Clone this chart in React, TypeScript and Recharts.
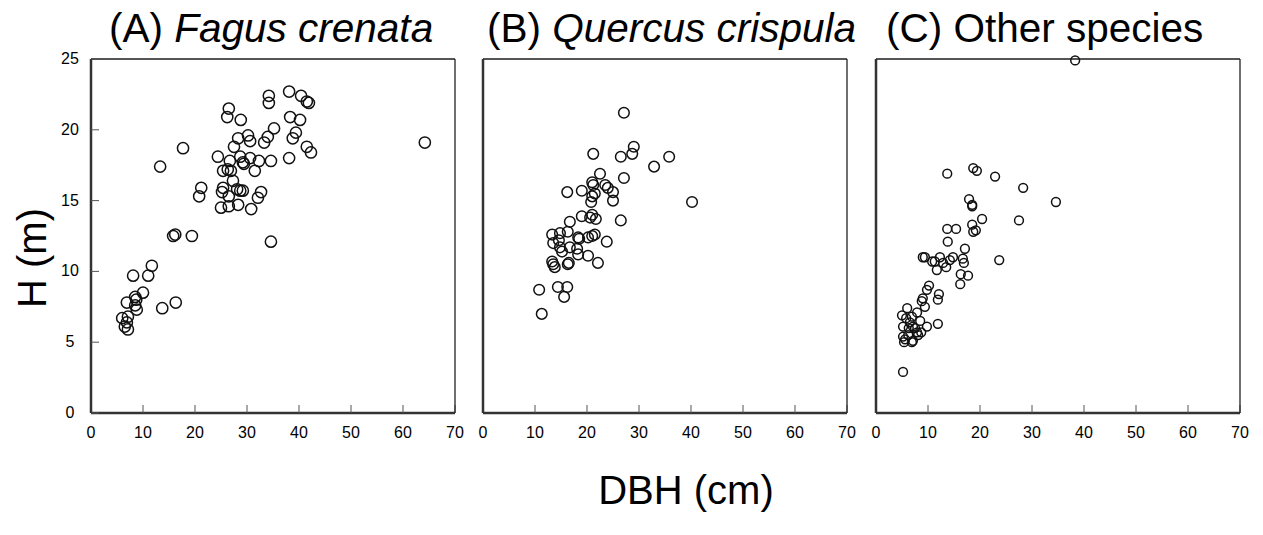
import React from "react";
import { ScatterChart, Scatter, XAxis, YAxis } from "recharts";

const dbhTicks = [0, 10, 20, 30, 40, 50, 60, 70];
const hTicks = [0, 5, 10, 15, 20, 25];

// (A) Fagus crenata
const fagusDbh = [
  34.2, 34.2, 38.1, 40.4, 41.5, 41.9, 26.5, 26.2, 28.8, 38.3, 40.2, 35.2, 39.4,
  38.8, 34.0, 33.3, 30.2, 30.6, 28.3, 27.5, 41.5, 42.3, 24.4, 28.7, 30.6, 29.2,
  29.4, 32.3, 34.6, 38.1, 26.7, 25.4, 26.3, 26.9, 31.5, 27.3, 21.2, 20.8, 25.4,
  25.2, 28.1, 28.7, 29.2, 32.7, 32.1, 26.5, 25.0, 26.5, 28.3, 30.8, 13.3, 17.7,
  64.2, 34.6, 15.8, 16.2, 19.4, 8.1, 11.0, 11.7, 10.0, 8.5, 8.7, 6.9, 8.5, 8.8,
  13.7, 16.3, 6.0, 7.1, 6.9, 6.5, 7.1,
];
const fagusH = [
  22.4, 21.9, 22.7, 22.4, 22.0, 21.9, 21.5, 20.9, 20.7, 20.9, 20.7, 20.1, 19.8,
  19.4, 19.5, 19.1, 19.6, 19.2, 19.4, 18.8, 18.8, 18.4, 18.1, 18.1, 18.0, 17.7,
  17.6, 17.8, 17.8, 18.0, 17.8, 17.1, 17.2, 17.1, 17.1, 16.4, 15.9, 15.3, 15.9,
  15.6, 15.8, 15.7, 15.7, 15.6, 15.2, 15.3, 14.5, 14.6, 14.7, 14.4, 17.4, 18.7,
  19.1, 12.1, 12.5, 12.6, 12.5, 9.7, 9.7, 10.4, 8.5, 8.2, 8.0, 7.8, 7.6, 7.3,
  7.4, 7.8, 6.7, 6.8, 6.4, 6.1, 5.9,
];

// (B) Quercus crispula
const quercusDbh = [
  27.1, 29.0, 28.7, 26.5, 21.2, 35.8, 32.9, 27.1, 22.5, 21.0, 21.2, 23.5, 24.0,
  25.0, 25.0, 21.5, 19.0, 16.2, 21.0, 20.8, 40.2, 26.5, 19.0, 20.6, 21.7, 21.0,
  16.7, 13.3, 14.8, 16.3, 18.3, 18.5, 20.2, 21.0, 21.5, 23.8, 13.5, 14.8, 16.7,
  18.1, 18.3, 20.2, 13.3, 13.5, 13.8, 16.3, 16.5, 22.1, 10.8, 14.4, 16.2, 15.6,
  11.3, 15.2, 14.6,
];
const quercusH = [
  21.2, 18.8, 18.3, 18.1, 18.3, 18.1, 17.4, 16.6, 16.9, 16.3, 16.1, 16.1, 15.9,
  15.6, 15.0, 15.5, 15.7, 15.6, 15.3, 14.9, 14.9, 13.6, 13.9, 13.8, 13.7, 14.0,
  13.5, 12.6, 12.7, 12.8, 12.4, 12.3, 12.4, 12.5, 12.6, 12.1, 12.0, 11.7, 11.7,
  11.6, 11.2, 11.1, 10.7, 10.5, 10.3, 10.5, 10.6, 10.6, 8.7, 8.9, 8.9, 8.2,
  7.0, 11.4, 12.2,
];

// (C) Other species
const otherDbh = [
  38.3, 13.7, 18.7, 19.4, 22.9, 28.3, 34.6, 27.5, 17.9, 18.5, 18.5, 20.4, 18.5,
  18.7, 19.2, 13.7, 15.4, 13.8, 17.1, 23.7, 9.0, 9.4, 10.8, 11.3, 12.3, 12.9,
  13.5, 11.7, 14.2, 14.8, 16.7, 16.9, 16.3, 16.2, 17.7, 10.2, 9.8, 12.1, 11.9,
  9.0, 8.8, 9.4, 6.0, 7.9, 5.0, 5.8, 6.9, 8.5, 5.2, 6.3, 7.1, 11.9, 9.8, 7.9,
  8.7, 8.1, 5.2, 6.2, 5.4, 6.9, 7.1, 6.5, 7.5, 5.6, 5.2,
];
const otherH = [
  24.9, 16.9, 17.3, 17.1, 16.7, 15.9, 14.9, 13.6, 15.1, 14.7, 14.6, 13.7, 13.3,
  12.8, 12.9, 13.0, 13.0, 12.1, 11.6, 10.8, 11.0, 11.0, 10.7, 10.7, 11.0, 10.6,
  10.3, 10.1, 10.8, 11.0, 10.9, 10.6, 9.8, 9.1, 9.7, 9.0, 8.7, 8.4, 8.0, 8.1,
  7.9, 7.5, 7.4, 7.1, 6.9, 6.7, 6.8, 6.5, 6.1, 6.0, 6.1, 6.3, 6.1, 5.7, 5.7,
  5.5, 5.4, 5.5, 5.0, 5.0, 5.1, 6.4, 6.0, 5.2, 2.9,
];

const zip = (xs: number[], ys: number[]) =>
  xs.map((dbh, i) => ({ dbh, h: ys[i] }));

// plain tick text so the size is really what we ask for
const XTick = (p: any) => (
  <text x={p.x} y={p.y} dy={11} textAnchor="middle" fontSize={16} fill="#000">
    {p.payload.value}
  </text>
);
const YTick = (p: any) => (
  <text x={p.x} y={p.y} dy={5} textAnchor="middle" fontSize={16} fill="#000">
    {p.payload.value}
  </text>
);

function Panel({
  left,
  data,
  r,
  showY,
}: {
  left: number;
  data: { dbh: number; h: number }[];
  r: number;
  showY: boolean;
}) {
  return (
    <div style={{ position: "absolute", left, top: 0 }}>
      <ScatterChart
        width={434}
        height={460}
        margin={{ top: 58, right: 18, bottom: 7, left: 0 }}
      >
        <XAxis
          xAxisId="b"
          type="number"
          dataKey="dbh"
          domain={[0, 70]}
          ticks={dbhTicks}
          interval={0}
          height={40}
          tickSize={-8}
          tickMargin={22}
          tick={<XTick />}
          axisLine={{ stroke: "#333", strokeWidth: 2.5 }}
          tickLine={{ stroke: "#555", strokeWidth: 1 }}
        />
        <XAxis
          xAxisId="t"
          orientation="top"
          type="number"
          dataKey="dbh"
          domain={[0, 70]}
          height={1}
          tick={false}
          tickLine={false}
          axisLine={{ stroke: "#555", strokeWidth: 2 }}
        />
        <YAxis
          yAxisId="l"
          type="number"
          dataKey="h"
          domain={[0, 25]}
          ticks={hTicks}
          interval={0}
          width={51}
          tickSize={-8}
          tickMargin={29}
          tick={showY ? <YTick /> : false}
          axisLine={{ stroke: "#333", strokeWidth: 2.5 }}
          tickLine={{ stroke: "#555", strokeWidth: 1 }}
        />
        <YAxis
          yAxisId="r"
          orientation="right"
          type="number"
          dataKey="h"
          domain={[0, 25]}
          width={1}
          tick={false}
          tickLine={false}
          axisLine={{ stroke: "#222", strokeWidth: 1.3 }}
        />
        <Scatter
          xAxisId="b"
          yAxisId="l"
          data={data}
          isAnimationActive={false}
          shape={(p: any) => (
            <circle
              cx={p.cx}
              cy={p.cy}
              r={r}
              fill="none"
              stroke="#111"
              strokeWidth={1.5}
            />
          )}
        />
      </ScatterChart>
    </div>
  );
}

const titleStyle: React.CSSProperties = {
  position: "absolute",
  top: 8,
  fontSize: 40.5,
  lineHeight: 1,
  whiteSpace: "nowrap",
  color: "#000",
};

export default function App() {
  return (
    <div
      style={{
        position: "absolute",
        left: 0,
        top: 0,
        width: 1263,
        height: 535,
        background: "#fff",
        fontFamily: "Arial, 'Liberation Sans', sans-serif",
        overflow: "hidden",
      }}
    >
      <Panel left={40} data={zip(fagusDbh, fagusH)} r={5.6} showY />
      <Panel left={432} data={zip(quercusDbh, quercusH)} r={5.3} showY={false} />
      <Panel left={825} data={zip(otherDbh, otherH)} r={4.4} showY={false} />
      <div style={{ ...titleStyle, left: 109 }}>
        (A) <i>Fagus crenata</i>
      </div>
      <div style={{ ...titleStyle, left: 487 }}>
        (B) <i>Quercus crispula</i>
      </div>
      <div style={{ ...titleStyle, left: 886 }}>(C) Other species</div>
      <div
        style={{
          position: "absolute",
          left: 32,
          top: 258,
          fontSize: 40,
          lineHeight: 1,
          whiteSpace: "nowrap",
          transform: "translate(-50%, -50%) rotate(-90deg)",
        }}
      >
        H (m)
      </div>
      <div
        style={{
          position: "absolute",
          left: 686,
          top: 470,
          fontSize: 40,
          lineHeight: 1,
          whiteSpace: "nowrap",
          transform: "translateX(-50%)",
        }}
      >
        DBH (cm)
      </div>
    </div>
  );
}
